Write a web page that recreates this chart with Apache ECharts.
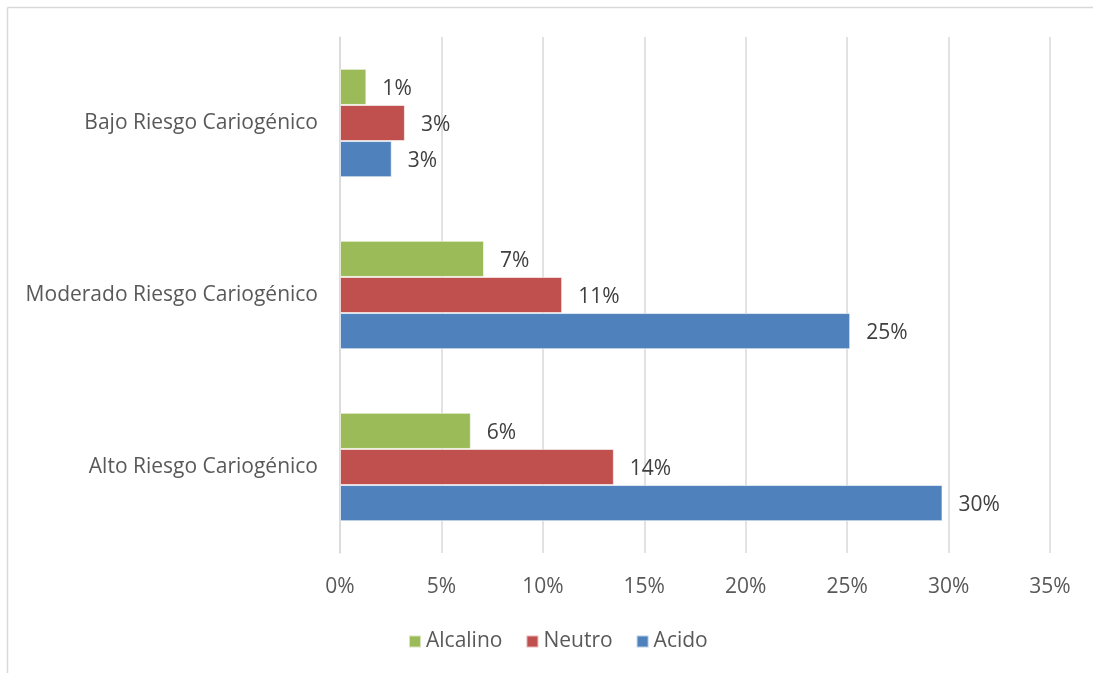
<!DOCTYPE html>
<html>
<head>
<meta charset="utf-8">
<script src="https://cdn.jsdelivr.net/npm/echarts@6/dist/echarts.min.js"></script>
<style>
  html, body { margin: 0; padding: 0; background: #fff; }
  #chart { width: 1093px; height: 673px; }
</style>
</head>
<body>
<div id="chart"></div>
<script>
// Risk categories, bottom to top on the axis
const categories = ['Alto Riesgo Cariogénico', 'Moderado Riesgo Cariogénico', 'Bajo Riesgo Cariogénico'];
// Share of cases per saliva pH group (percent)
const alcalino = [6.45, 7.1, 1.3];
const neutro = [13.5, 10.95, 3.2];
const acido = [29.7, 25.15, 2.55];
const xTicks = [0, 5, 10, 15, 20, 25, 30, 35];

const FONT = '"Open Sans", sans-serif';
const TEXT = '#595959';
const SIZE = 21;

const chart = echarts.init(document.getElementById('chart'), null, { renderer: 'canvas' });

function barSeries(name, data, color) {
  return {
    name: name,
    type: 'bar',
    data: data,
    barGap: '0%',
    barCategoryGap: '37%',
    itemStyle: { color: color, borderColor: 'rgba(255,255,255,0.6)', borderWidth: 1 },
    label: {
      show: true,
      position: 'right',
      distance: 16,
      offset: [0, 2],
      color: '#404040',
      fontFamily: FONT,
      fontSize: SIZE,
      formatter: p => Math.round(p.value) + '%'
    }
  };
}

chart.setOption({
  animation: false,
  backgroundColor: '#fff',
  graphic: [
    { type: 'line', shape: { x1: 7.5, y1: 7.5, x2: 1093, y2: 7.5 }, style: { stroke: '#d9d9d9', lineWidth: 1.5 } },
    { type: 'line', shape: { x1: 7.5, y1: 7.5, x2: 7.5, y2: 673 }, style: { stroke: '#d9d9d9', lineWidth: 1.5 } }
  ],
  grid: { left: 340, right: 43, top: 37, bottom: 120, containLabel: false },
  legend: {
    data: ['Alcalino', 'Neutro', 'Acido'],
    bottom: 21,
    left: 408,
    padding: 0,
    itemWidth: 12,
    itemHeight: 12,
    itemGap: 23,
    icon: 'rect',
    textStyle: { color: TEXT, fontFamily: FONT, fontSize: SIZE }
  },
  xAxis: {
    type: 'value',
    min: xTicks[0],
    max: xTicks[xTicks.length - 1],
    interval: 5,
    axisLine: { show: false },
    axisTick: { show: false },
    splitLine: { show: true, lineStyle: { color: '#d9d9d9', width: 1.5 } },
    axisLabel: { color: TEXT, fontFamily: FONT, fontSize: SIZE, margin: 24, formatter: v => v + '%' }
  },
  yAxis: {
    type: 'category',
    data: categories,
    axisLine: { show: true, lineStyle: { color: '#d9d9d9', width: 1.5 } },
    axisTick: { show: false },
    axisLabel: { color: TEXT, fontFamily: FONT, fontSize: SIZE, margin: 22 }
  },
  // first series sits at the top of each category band
  series: [
    barSeries('Alcalino', alcalino, '#9bbb59'),
    barSeries('Neutro', neutro, '#c0504d'),
    barSeries('Acido', acido, '#4f81bd')
  ]
});
</script>
</body>
</html>
